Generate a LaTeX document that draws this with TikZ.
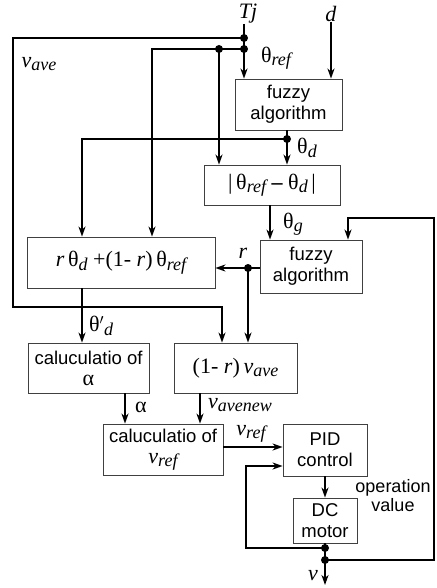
\documentclass[tikz,border=0pt]{standalone}
\usepackage{fontspec}
\setmainfont{Liberation Serif}
\newfontfamily\arial{Liberation Sans}
\usetikzlibrary{arrows.meta}
\newcommand\thet{\textup{θ}}
\newcommand\sbs[1]{\raisebox{-0.35ex}{\itshape\fontsize{18}{18}\selectfont #1}}
\tikzset{
  blk/.style={draw=black!75,line width=0.8pt,fill=white,align=center,inner sep=0pt},
  sblk/.style={blk,font=\arial\fontsize{18.5}{21}\selectfont},
  mblk/.style={blk,font=\fontsize{22}{24}\selectfont},
  conn/.style={line width=1.8pt},
  bus/.style={line width=2.7pt},
  arr/.style={-{Stealth[length=10pt,width=7pt,inset=3pt]}},
  lbl/.style={font=\fontsize{22}{24}\selectfont,inner sep=0pt},
}

\begin{document}
\begin{tikzpicture}[x=1pt,y=-1pt]
  \useasboundingbox (0,0) rectangle (436,588);
  \node[sblk,minimum width=107pt,minimum height=51pt] (fuz1) at (288.5,104.5) {fuzzy\\algorithm};
  \node[mblk,minimum width=136pt,minimum height=40pt] (absd) at (272,185) {|\,\thet\sbs{ref} \textbf{–} \thet\sbs{d}\,|};
  \node[sblk,minimum width=102pt,minimum height=53pt] (fuz2) at (311,266.5) {fuzzy\\algorithm};
  \node[mblk,minimum width=188pt,minimum height=51pt] (mix) at (121,262.5) {\textit{r}\,\thet\sbs{d} +(1- \textit{r})\,\thet\sbs{ref}};
  \node[sblk,minimum width=121pt,minimum height=50pt] (calca) at (88.5,368) {caluculatio of\\{\rmfamily\fontsize{22}{22}\selectfont α}};
  \node[mblk,minimum width=123pt,minimum height=50pt] (vave) at (235.5,368) {(1- \textit{r})\,\textit{v}\sbs{ave}};
  \node[sblk,minimum width=120pt,minimum height=51pt] (calcv) at (163,449.5) {caluculatio of\\{\rmfamily\fontsize{22}{22}\selectfont\textit{v}\sbs{ref}}};
  \node[sblk,minimum width=84pt,minimum height=52pt] (pid) at (325,450) {PID\\control};
  \node[sblk,minimum width=64pt,minimum height=45pt] (dc) at (325,520.5) {DC\\motor};

  \node[lbl] (tj) at (248,14) {\textit{Tj}};
  \node[lbl] (d) at (331,14) {\textit{d}};
  \node[lbl] (vavelbl) at (39,64) {\textit{v}\sbs{ave}};
  \node[lbl] (reflbl) at (276,58) {\thet\sbs{ref}};
  \node[lbl] (dlbl) at (307,148) {\thet\sbs{d}};
  \node[lbl] (glbl) at (293,224) {\thet\sbs{g}};
  \node[lbl] (rlbl) at (243,253) {\textit{r}};
  \node[lbl] (dplbl) at (101,326) {\thet$'$\sbs{d}};
  \node[lbl] (alpha) at (141,407) {α};
  \node[lbl] (newlbl) at (240,405) {\textit{v}\sbs{avenew}};
  \node[lbl] (vreflbl) at (251,434) {\textit{v}\sbs{ref}};
  \node[font=\arial\fontsize{18}{19}\selectfont,align=center,inner sep=0pt] (oplbl) at (393,496) {operation\\value};
  \node[lbl] (vlbl) at (313,576) {\textit{v}};

  \coordinate (j1) at (244,38);
  \coordinate (j2) at (244,49);
  \coordinate (j3) at (219,49);
  \coordinate (k) at (152,49);
  \coordinate (j4) at (287,139);
  \coordinate (m) at (82,139);
  \coordinate (gx) at (270,0);
  \coordinate (j5) at (248,268);
  \coordinate (ax) at (125,0);
  \coordinate (nx) at (200,0);
  \coordinate (vr) at (0,447);
  \coordinate (j7) at (325,548);
  \coordinate (j6) at (325,560);
  \coordinate (vout) at (325,585);
  \coordinate (rt) at (434,218);
  \coordinate (fb) at (246,466);

  \draw[conn] (tj.south -| j1) -- (j2);
  \draw[conn,arr] (j2) -- (j2 |- fuz1.north);
  \draw[conn,arr] (d.south) -- (d.south |- fuz1.north);
  \draw[bus,arr] (j1) -| (13,307) -| ([xshift=-13.5pt]vave.north);
  \draw[bus,arr] (j2) -- (k) -- (k |- mix.north);
  \draw[conn,arr] (j3) -- (j3 |- absd.north);
  \draw[conn] (fuz1.south -| j4) -- (j4);
  \draw[conn,arr] (j4) -- (j4 |- absd.north);
  \draw[conn,arr] (j4) -- (m) -- (m |- mix.north);
  \draw[conn,arr] (absd.south -| gx) -- (fuz2.north -| gx);
  \draw[conn,arr] (fuz2.west |- j5) -- (mix.east |- j5);
  \draw[bus,arr] (j5) -- (j5 |- vave.north);
  \draw[conn,arr] (mix.south -| m) -- (calca.north -| m);
  \draw[conn,arr] (calca.south -| ax) -- (calcv.north -| ax);
  \draw[conn,arr] (vave.south -| nx) -- (calcv.north -| nx);
  \draw[conn,arr] (calcv.east |- vr) -- (pid.west |- vr);
  \draw[conn,arr] (pid.south) -- (dc.north);
  \draw[conn] (dc.south) -- (j6);
  \draw[conn,arr] (j6) -- (vout);
  \draw[bus,arr] (j7) -| (fb) -- (pid.west |- fb);
  \draw[bus,arr] (j6) -| (rt) -| ([xshift=37pt]fuz2.north);

  \foreach \p in {j1,j2,j3,j4,j5,j6,j7} \fill (\p) circle (4pt);
\end{tikzpicture}
\end{document}
